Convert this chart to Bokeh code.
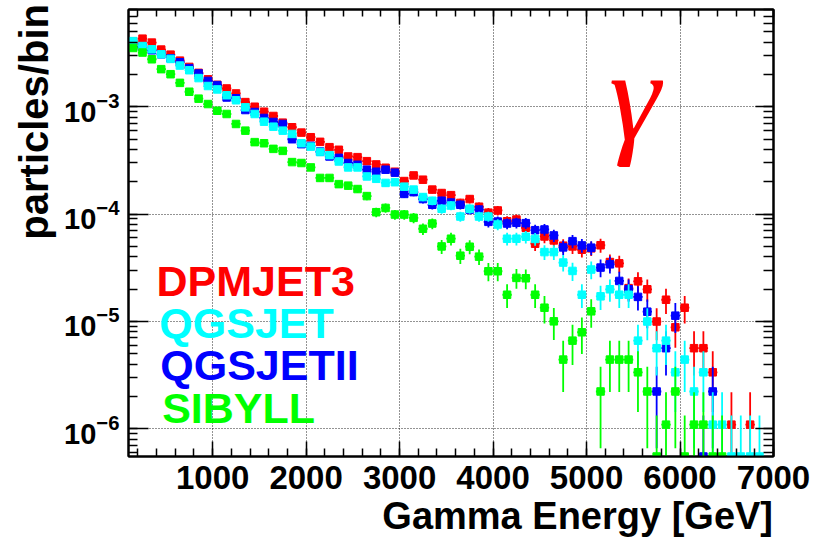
import numpy as np
from bokeh.plotting import figure
from bokeh.models import Range1d, LogAxis, LinearAxis, FixedTicker, Label, ColumnDataSource
from bokeh.embed import file_html
from bokeh.resources import INLINE

nan = float("nan")

# bin centres (GeV), 100 GeV wide bins
energy = [150, 250, 350, 450, 550, 650, 750, 850, 950, 1050,
          1150, 1250, 1350, 1450, 1550, 1650, 1750, 1850, 1950, 2050,
          2150, 2250, 2350, 2450, 2550, 2650, 2750, 2850, 2950, 3050,
          3150, 3250, 3350, 3450, 3550, 3650, 3750, 3850, 3950, 4050,
          4150, 4250, 4350, 4450, 4550, 4650, 4750, 4850, 4950, 5050,
          5150, 5250, 5350, 5450, 5550, 5650, 5750, 5850, 5950, 6050,
          6150, 6250, 6350, 6450, 6550, 6650, 6750, 6850, 6950]
bin_half_width = 50

dpmjet3 = [4.07e-3, 4.31e-3, 3.96e-3, 3.41e-3, 3.06e-3, 2.69e-3, 2.35e-3, 2.07e-3, 1.80e-3, 1.60e-3,
           1.48e-3, 1.33e-3, 1.105e-3, 1.00e-3, 8.99e-4, 8.20e-4, 7.11e-4, 6.44e-4, 5.74e-4, 5.20e-4,
           4.71e-4, 4.20e-4, 3.97e-4, 3.44e-4, 3.39e-4, 3.11e-4, 2.90e-4, 2.70e-4, 2.48e-4, 2.03e-4,
           2.29e-4, 2.09e-4, 1.69e-4, 1.57e-4, 1.50e-4, 1.27e-4, 1.38e-4, 1.17e-4, 1.03e-4, 1.08e-4,
           8.57e-5, 8.89e-5, 7.45e-5, 5.29e-5, 6.18e-5, 5.68e-5, 5.07e-5, 4.99e-5, 4.65e-5, 4.79e-5,
           5.12e-5, 3.57e-5, 3.47e-5, 2.04e-5, 2.36e-5, 1.99e-5, 9.96e-6, 1.59e-5, 8.80e-6, 1.34e-5,
           5.62e-6, 5.62e-6, 3.35e-6, nan, 1.09e-6, nan, 1.09e-6, nan, nan]

qgsjetii = [3.62e-3, 3.62e-3, 3.36e-3, 3.08e-3, 2.83e-3, 2.60e-3, 2.29e-3, 2.04e-3, 1.74e-3, 1.59e-3,
            1.22e-3, 1.20e-3, 9.32e-4, 8.93e-4, 7.86e-4, 7.21e-4, 6.91e-4, 4.98e-4, 4.48e-4, 4.32e-4,
            3.82e-4, 3.44e-4, 3.34e-4, 2.99e-4, 2.88e-4, 2.59e-4, 2.48e-4, 2.59e-4, 2.43e-4, 1.54e-4,
            1.60e-4, 1.38e-4, 1.22e-4, 1.33e-4, 1.28e-4, 1.22e-4, 1.10e-4, 1.10e-4, 8.46e-5, 8.51e-5,
            8.16e-5, 8.29e-5, 8.22e-5, 7.07e-5, 7.18e-5, 6.32e-5, 4.89e-5, 5.59e-5, 5.10e-5, 4.86e-5,
            3.17e-5, 3.40e-5, 2.38e-5, 1.99e-5, 1.69e-5, 1.23e-5, 2.22e-6, 5.62e-6, 1.13e-5, nan,
            nan, 5.5e-7, 2.22e-6, nan, nan, nan, nan, nan, nan]

qgsjet = [4.09e-3, 3.68e-3, 3.43e-3, 3.08e-3, 2.79e-3, 2.42e-3, 2.19e-3, 1.85e-3, 1.56e-3, 1.45e-3,
          1.28e-3, 1.15e-3, 9.87e-4, 8.56e-4, 7.26e-4, 6.52e-4, 5.99e-4, 5.58e-4, 4.57e-4, 4.25e-4,
          3.78e-4, 3.54e-4, 3.09e-4, 2.72e-4, 2.72e-4, 2.24e-4, 2.13e-4, 1.95e-4, 1.98e-4, 1.80e-4,
          1.69e-4, 1.44e-4, 1.33e-4, 1.12e-4, 1.20e-4, 9.48e-5, 1.12e-4, 9.48e-5, 9.48e-5, 7.99e-5,
          5.89e-5, 5.89e-5, 6.14e-5, 5.86e-5, 4.42e-5, 4.42e-5, 3.53e-5, 2.95e-5, 1.77e-5, 3.04e-5,
          1.71e-5, 1.99e-5, 1.77e-5, 1.77e-5, 6.61e-6, 9.96e-6, 5.62e-6, 6.61e-6, 3.35e-6, 4.40e-6,
          2.22e-6, 3.35e-6, 1.09e-6, 1.09e-6, 5.5e-7, 5.5e-7, 5.5e-7, 5.5e-7, nan]

sibyll = [3.53e-3, 3.20e-3, 2.77e-3, 2.24e-3, 2.01e-3, 1.67e-3, 1.38e-3, 1.19e-3, 1.06e-3, 9.18e-4,
          8.56e-4, 6.91e-4, 5.99e-4, 4.68e-4, 4.57e-4, 4.05e-4, 3.88e-4, 3.05e-4, 2.99e-4, 2.72e-4,
          2.17e-4, 2.17e-4, 1.90e-4, 1.84e-4, 1.71e-4, 1.47e-4, 1.04e-4, 1.14e-4, 9.89e-5, 9.89e-5,
          9.22e-5, 7.29e-5, 8.16e-5, 4.99e-5, 5.89e-5, 4.09e-5, 4.96e-5, 4.01e-5, 2.93e-5, 2.93e-5,
          1.77e-5, 2.54e-5, 2.52e-5, 1.77e-5, 1.34e-5, 1.00e-5, 4.40e-6, 6.61e-6, 7.91e-6, 1.24e-5,
          2.22e-6, 4.40e-6, 4.40e-6, 4.40e-6, 3.35e-6, 2.22e-6, 5.5e-7, 1.09e-6, 2.22e-6, 5.5e-7,
          1.09e-6, 1.09e-6, 5.5e-7, 5.5e-7, nan, nan, nan, nan, nan]

# content of a bin holding a single entry (smallest non-empty bin in the picture)
single_entry = 1.1e-6

series_names = ["DPMJET3", "QGSJET", "QGSJETII", "SIBYLL"]
series_colors = ["#ff0000", "#00ffff", "#0000ff", "#00ff00"]
series_values = [dpmjet3, qgsjet, qgsjetii, sibyll]
draw_order = [0, 2, 1, 3]

x_ticks = [1000, 2000, 3000, 4000, 5000, 6000, 7000]
x_minor = [v for v in range(200, 7001, 200)]
y_ticks = [1e-6, 1e-5, 1e-4, 1e-3]
y_minor = [m * 10.0 ** e for e in range(-7, -2) for m in range(1, 10)]

x_title = "Gamma Energy [GeV]"
y_title = "particles/bin"

X_MIN, X_MAX = 100, 7000
Y_MIN, Y_MAX = 5.5e-7, 8.06e-3

p = figure(width=813, height=539, x_range=Range1d(X_MIN, X_MAX), y_range=Range1d(Y_MIN, Y_MAX),
           y_axis_type="log", output_backend="svg", toolbar_location=None,
           min_border_left=128, min_border_right=40, min_border_top=9, min_border_bottom=81,
           background_fill_color="white", border_fill_color="white")
p.outline_line_color = "black"
p.outline_line_width = 2

xt = FixedTicker(ticks=x_ticks, minor_ticks=x_minor)
yt = FixedTicker(ticks=y_ticks, minor_ticks=y_minor)

p.xaxis.ticker = xt
p.yaxis.ticker = yt
p.xgrid.ticker = xt
p.ygrid.ticker = yt
for g in (p.xgrid, p.ygrid):
    g.grid_line_color = "black"
    g.grid_line_dash = "1 2"
    g.grid_line_width = 1
    g.grid_line_alpha = 0.85

def style_axis(ax, major_in, minor_in, labels=True, size="30px"):
    ax.axis_line_width = 2
    ax.axis_line_color = "black"
    ax.major_tick_in = major_in
    ax.major_tick_out = 0
    ax.minor_tick_in = minor_in
    ax.minor_tick_out = 0
    ax.major_tick_line_width = 1.5
    ax.minor_tick_line_width = 1.5
    ax.major_tick_line_color = "black"
    ax.minor_tick_line_color = "black"
    ax.major_label_text_font = "Liberation Sans"
    ax.major_label_text_font_style = "bold"
    ax.major_label_text_color = "black"
    if labels:
        ax.major_label_text_font_size = size
    else:
        ax.major_label_text_font_size = "1px"
        ax.major_label_text_alpha = 0
        ax.major_label_standoff = 0

xa = p.xaxis[0]
ya = p.yaxis[0]
style_axis(xa, 15, 8, True, "33px")
xa.major_label_standoff = 9
style_axis(ya, 20, 9, True, "29px")
ya.major_label_standoff = 9

# axis titles, ROOT style: pushed to the end of the axis with leading no-break spaces
NBSP = "\u00a0"
for ax, title, pad, size, standoff in ((xa, x_title, 24, "38px", 3),
                                       (ya, y_title, 20, "40px", 5)):
    ax.axis_label = NBSP * pad + title
    ax.axis_label_text_font = "Liberation Sans"
    ax.axis_label_text_font_style = "bold"
    ax.axis_label_text_font_size = size
    ax.axis_label_text_color = "black"
    ax.axis_label_standoff = standoff

top_axis = LinearAxis(ticker=xt)
style_axis(top_axis, 15, 7, False)
p.add_layout(top_axis, "above")
right_axis = LogAxis(ticker=yt)
style_axis(right_axis, 18, 10, False)
p.add_layout(right_axis, "right")

for i in draw_order:
    v = np.array(series_values[i], dtype=float)
    x = np.array(energy, dtype=float)
    err = np.sqrt(v * single_entry)
    lo = np.maximum(v - err, Y_MIN * 0.2)
    hi = v + err
    src = ColumnDataSource(dict(x=x, y=v, lo=lo, hi=hi,
                                xl=x - bin_half_width, xr=x + bin_half_width))
    c = series_colors[i]
    p.segment(x0="x", y0="lo", x1="x", y1="hi", source=src, line_color=c, line_width=1.8)
    p.segment(x0="xl", y0="y", x1="xr", y1="y", source=src, line_color=c, line_width=1.8)
    p.scatter(x="x", y="y", source=src, marker="square", size=7.5, fill_color=c, line_color=c)

# legend texts
legend_x = [400, 430, 440, 460]
legend_y = [2.36e-5, 9.64e-6, 3.93e-6, 1.57e-6]
for name, c, lx, ly in zip(series_names, series_colors, legend_x, legend_y):
    p.add_layout(Label(x=lx, y=ly, text=name, text_color=c, text_font="Liberation Sans",
                       text_font_style="bold", text_font_size="43px",
                       text_align="left", text_baseline="alphabetic"))

# gamma symbol
p.add_layout(Label(x=5513, y=1.30e-3, text="\u03b3", text_color="#ff0000",
                   text_font="Liberation Serif", text_font_style="italic", text_font_size="130px",
                   text_align="center", text_baseline="alphabetic"))

open("out.html", "w").write(file_html(p, INLINE))
